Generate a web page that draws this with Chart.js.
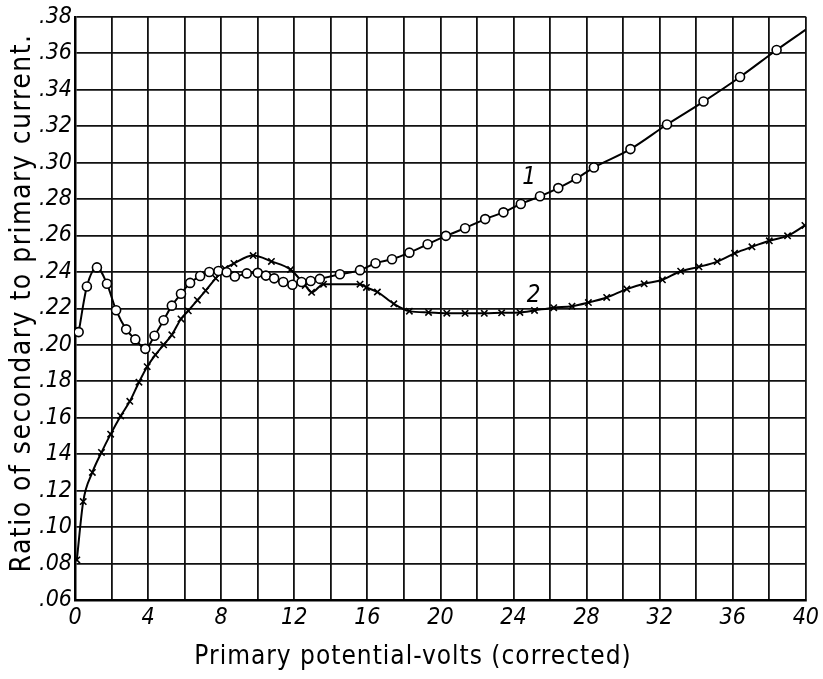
<!DOCTYPE html>
<html>
<head>
<meta charset="utf-8">
<script src="https://cdn.jsdelivr.net/npm/chart.js@4/dist/chart.umd.min.js"></script>
<style>
  html, body { margin: 0; padding: 0; background: #fff; }
  #wrap { width: 823px; height: 679px; }
</style>
</head>
<body>
<div id="wrap"><canvas id="ratioChart" width="823" height="679"></canvas></div>
<script>
// curve 1 (circles)
var volts1 = [0.2, 0.65, 1.2, 1.75, 2.25, 2.8, 3.3, 3.85, 4.35, 4.85, 5.3, 5.8, 6.3, 6.85, 7.35, 7.85,
  8.3, 8.75, 9.4, 10.0, 10.45, 10.9, 11.4, 11.9, 12.4, 12.9, 13.4, 14.5, 15.6, 16.45, 17.35, 18.3,
  19.3, 20.3, 21.35, 22.45, 23.45, 24.4, 25.45, 26.45, 27.45, 28.4, 30.4, 32.4, 34.4, 36.4, 38.4, 40];
var ratio1 = [.207, .232, .2425, .2335, .219, .2085, .203, .1978, .205, .2135, .2215, .228, .234, .2378, .24, .2405,
  .2398, .2375, .2392, .2395, .238, .2365, .2345, .233, .2345, .235, .2362, .2387, .241, .2448, .247, .2506,
  .2552, .2598, .264, .269, .2727, .2773, .2815, .286, .2913, .2973, .3074, .3209, .3335, .347, .3618, .373];

// curve 2 (crosses)
var volts2 = [0.1, 0.45, 0.95, 1.45, 1.95, 2.5, 3.0, 3.5, 3.95, 4.4, 4.85, 5.3, 5.8, 6.2, 6.7, 7.15, 7.7,
  8.2, 8.7, 9.75, 10.75, 11.8, 12.6, 12.95, 13.6, 15.6, 15.95, 16.55, 17.45, 18.3, 19.35, 20.35, 21.35,
  22.4, 23.35, 24.35, 25.15, 26.2, 27.2, 28.1, 29.1, 30.2, 31.15, 32.15, 33.15, 34.15, 35.15, 36.1,
  37.05, 38.0, 39.0, 39.95];
var ratio2 = [.082, .114, .130, .141, .151, .161, .169, .1795, .188, .1945, .2, .2055, .2142, .2187, .2245, .2298, .2365,
  .2418, .2447, .249, .2458, .2413, .2326, .2288, .2333, .2333, .2315, .229, .2225, .2185, .2178, .2174, .2173,
  .2173, .2176, .2178, .2189, .2204, .2212, .2232, .226, .2306, .2335, .2357, .2404, .2428, .2457, .2502,
  .2538, .2571, .2598, .2655];

var xTickLabels = ['0', '4', '8', '12', '16', '20', '24', '28', '32', '36', '40'];
var yTickLabels = ['.06', '.08', '.10', '.12', '14', '.16', '.18', '.20', '.22', '.24', '.26', '.28',
  '.30', '.32', '.34', '.36', '.38'];
var curveNames = ['1', '2'];
var xTitle = 'Primary potential-volts (corrected)';
var yTitle = 'Ratio of secondary to primary current.';

function pts(xs, ys) {
  return xs.map(function (x, i) { return { x: x, y: ys[i] }; });
}

var handFont = "'DejaVu Sans Condensed', 'DejaVu Sans', sans-serif";

// axis titles and the "1" / "2" written beside the curves
var textPlugin = {
  id: 'handText',
  afterDraw: function (chart) {
    var c = chart.ctx, xs = chart.scales.x, ys = chart.scales.y;
    var spots = [[24.85, .2852], [25.1, .2205]];
    c.save();
    c.fillStyle = '#000';
    c.font = 'italic 24px ' + handFont;
    c.textAlign = 'center';
    c.textBaseline = 'bottom';
    curveNames.forEach(function (t, i) {
      c.fillText(t, xs.getPixelForValue(spots[i][0]), ys.getPixelForValue(spots[i][1]));
    });

    c.textBaseline = 'middle';
    c.font = '26px ' + handFont;
    c.letterSpacing = '1px';
    c.fillText(xTitle, 413, 657);

    c.translate(23, 303);
    c.rotate(-Math.PI / 2);
    c.font = '28px ' + handFont;
    c.letterSpacing = '1.5px';
    c.fillText(yTitle, 0, 0);
    c.restore();
  }
};

var lastIdx = volts1.length - 1;

var chart = new Chart(document.getElementById('ratioChart').getContext('2d'), {
  type: 'scatter',
  data: {
    datasets: [{
      label: 'curve 1',
      data: pts(volts1, ratio1),
      showLine: true,
      borderColor: '#000',
      borderWidth: 2,
      cubicInterpolationMode: 'monotone',
      pointStyle: 'circle',
      pointRadius: function (ctx) { return ctx.dataIndex === lastIdx ? 0 : 4.5; },
      pointBorderWidth: 1.6,
      pointBorderColor: '#000',
      pointBackgroundColor: '#fff'
    }, {
      label: 'curve 1 dots',
      data: pts(volts1, ratio1),
      showLine: false,
      pointRadius: function (ctx) { return ctx.dataIndex === lastIdx ? 0 : 1.3; },
      pointBorderWidth: 0,
      pointBackgroundColor: '#000'
    }, {
      label: 'curve 2',
      data: pts(volts2, ratio2),
      showLine: true,
      borderColor: '#000',
      borderWidth: 2,
      cubicInterpolationMode: 'monotone',
      pointStyle: 'crossRot',
      pointRadius: 4.5,
      pointBorderWidth: 1.6,
      pointBorderColor: '#000'
    }]
  },
  options: {
    responsive: false,
    animation: false,
    devicePixelRatio: 1,
    layout: { padding: { top: 15, right: 10, left: 0, bottom: 0 } },
    plugins: {
      legend: { display: false },
      tooltip: { enabled: false }
    },
    scales: {
      x: {
        type: 'linear',
        min: 0,
        max: 40,
        afterFit: function (s) { s.height = 79; },
        ticks: {
          stepSize: 2,
          color: '#000',
          font: { family: handFont, size: 23, style: 'italic' },
          maxRotation: 0,
          padding: 4,
          callback: function (v, i) { return i % 2 === 0 ? xTickLabels[i / 2] : ''; }
        },
        grid: { color: '#111', lineWidth: 1.8, drawTicks: false },
        border: { display: true, color: '#000', width: 2.5 }
      },
      y: {
        type: 'linear',
        min: 0.06,
        max: 0.38,
        afterFit: function (s) { s.width = 75; },
        ticks: {
          stepSize: 0.02,
          color: '#000',
          font: { family: handFont, size: 23, style: 'italic' },
          padding: 3,
          callback: function (v, i) { return yTickLabels[i]; }
        },
        grid: { color: '#111', lineWidth: 1.8, drawTicks: false },
        border: { display: true, color: '#000', width: 2.5 }
      }
    }
  },
  plugins: [textPlugin]
});
</script>
</body>
</html>
